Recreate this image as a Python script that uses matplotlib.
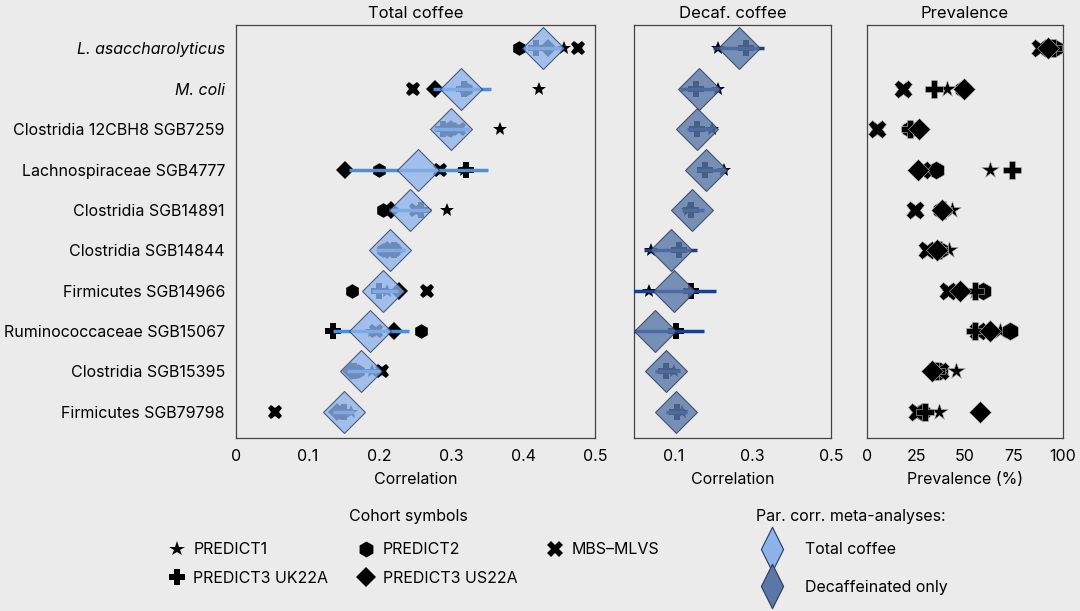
import numpy as np
import matplotlib.pyplot as plt
from matplotlib.lines import Line2D
from matplotlib.path import Path

plt.rcParams['font.family'] = ['Inter', 'DejaVu Sans']
plt.rcParams['font.size'] = 11.5

nan = np.nan

taxa = ['L. asaccharolyticus', 'M. coli', 'Clostridia 12CBH8 SGB7259',
        'Lachnospiraceae SGB4777', 'Clostridia SGB14891', 'Clostridia SGB14844',
        'Firmicutes SGB14966', 'Ruminococcaceae SGB15067', 'Clostridia SGB15395',
        'Firmicutes SGB79798']

# total coffee: meta-analysis + CI, per-cohort correlations
total_meta = [0.427, 0.313, 0.299, 0.253, 0.243, 0.214, 0.205, 0.186, 0.174, 0.150]
total_lo = [0.404, 0.274, 0.274, 0.157, 0.213, 0.195, 0.190, 0.135, 0.155, 0.135]
total_hi = [0.452, 0.355, 0.325, 0.351, 0.272, 0.235, 0.225, 0.241, 0.200, 0.165]
total_p1 = [0.457, 0.422, 0.368, 0.318, 0.294, 0.220, 0.210, 0.190, 0.190, 0.160]
total_p2 = [0.394, 0.320, 0.295, 0.199, 0.205, 0.205, 0.162, 0.257, 0.170, 0.145]
total_uk = [0.418, 0.318, 0.288, 0.320, 0.258, 0.220, 0.199, 0.135, 0.165, 0.150]
total_us = [0.434, 0.277, 0.300, 0.152, 0.216, 0.210, 0.227, 0.220, 0.160, 0.140]
total_mbs = [0.476, 0.247, 0.310, 0.284, 0.250, 0.220, 0.266, 0.195, 0.203, 0.054]

# decaf only
decaf_meta = [0.267, 0.164, 0.161, 0.184, 0.148, 0.093, 0.101, 0.053, 0.080, 0.106]
decaf_lo = [0.200, 0.117, 0.135, 0.161, 0.121, 0.025, -0.02, -0.02, 0.053, 0.081]
decaf_hi = [0.329, 0.218, 0.197, 0.235, 0.177, 0.159, 0.208, 0.178, 0.118, 0.134]
decaf_p1 = [0.213, 0.213, 0.197, 0.228, 0.138, 0.042, 0.039, nan, 0.101, 0.121]
decaf_uk = [0.284, 0.157, 0.159, 0.181, 0.145, 0.114, 0.144, 0.106, 0.081, 0.108]

# prevalence (%)
prev_p1 = [93.5, 41.0, 25.0, 62.8, 43.2, 42.0, 55.0, 67.9, 45.2, 36.7]
prev_p2 = [95.9, 49.0, 21.9, 35.2, 38.0, 37.0, 59.4, 73.0, 37.2, 28.0]
prev_uk = [95.0, 34.2, 21.9, 74.1, 38.9, 36.9, 55.1, 55.1, 35.0, 29.6]
prev_us = [92.4, 49.5, 26.7, 26.2, 38.1, 35.9, 47.4, 62.8, 33.0, 57.7]
prev_mbs = [88.3, 18.2, 4.9, 27.9, 24.5, 30.4, 41.5, 56.8, 37.2, 25.3]

bg = '#ebebeb'
light = '#8db3ea'
dark = '#5a77a8'
edge = '#2b3a5c'

cohorts = [('PREDICT1', '*', 10.5), ('PREDICT2', 'h', 10.5), ('MBS\u2013MLVS', 'X', 10.5),
           ('PREDICT3 UK22A', 'P', 11), ('PREDICT3 US22A', 'D', 9)]

y = np.arange(len(taxa))

fig = plt.figure(figsize=(10.8, 6.11), dpi=100, facecolor=bg)
ax1 = fig.add_axes([236 / 1080, 1 - 438 / 611, 359 / 1080, 413 / 611])
ax2 = fig.add_axes([634 / 1080, 1 - 438 / 611, 197 / 1080, 413 / 611])
ax3 = fig.add_axes([867 / 1080, 1 - 438 / 611, 196 / 1080, 413 / 611])


def cohort_points(ax, vals, marker, ms, mec='black', mew=0):
    ax.plot(vals, y, ls='none', marker=marker, ms=ms, color='black',
            mec=mec, mew=mew, zorder=3)


# Total coffee
for vals, (name, m, ms) in zip([total_p1, total_p2, total_mbs, total_uk, total_us], cohorts):
    cohort_points(ax1, vals, m, ms)
ax1.hlines(y, total_lo, total_hi, color='#4a8fe0', lw=2.5, zorder=4)
ax1.plot(total_meta, y, ls='none', marker='D', ms=21, mfc=light, mec=edge,
         mew=0.8, alpha=0.78, zorder=5)

# Decaf
cohort_points(ax2, decaf_p1, '*', 10.5)
cohort_points(ax2, decaf_uk, 'P', 11)
ax2.hlines(y, decaf_lo, decaf_hi, color='#1d3f8f', lw=2.5, zorder=4)
ax2.plot(decaf_meta, y, ls='none', marker='D', ms=21, mfc=dark, mec=edge,
         mew=0.8, alpha=0.8, zorder=5)

# Prevalence
for vals, (name, m, ms) in zip([prev_p1, prev_p2, prev_mbs, prev_uk, prev_us], cohorts):
    cohort_points(ax3, vals, m, ms + 2.5, mec='#bbbbbb', mew=0.4)

for ax in (ax1, ax2, ax3):
    ax.set_facecolor(bg)
    ax.set_ylim(9.65, -0.58)
    ax.tick_params(length=0, labelsize=11.5, pad=8)
    for s in ax.spines.values():
        s.set_color('#444444')
        s.set_linewidth(0.9)

ax1.set_xlim(0, 0.5)
ax1.set_xticks([0, 0.1, 0.2, 0.3, 0.4, 0.5])
ax1.set_xticklabels(['0', '0.1', '0.2', '0.3', '0.4', '0.5'])
ax1.set_yticks(y)
ax1.set_yticklabels(taxa)
for lab in ax1.get_yticklabels()[:2]:
    lab.set_style('italic')
ax1.set_xlabel('Correlation', labelpad=6)
ax1.set_title('Total coffee', fontsize=12, pad=5)

ax2.set_xlim(0, 0.5)
ax2.set_xticks([0.1, 0.3, 0.5])
ax2.set_xticklabels(['0.1', '0.3', '0.5'])
ax2.set_yticks([])
ax2.set_xlabel('Correlation', labelpad=6)
ax2.set_title('Decaf. coffee', fontsize=12, pad=5)

ax3.set_xlim(0, 100)
ax3.set_xticks([0, 25, 50, 75, 100])
ax3.set_yticks([])
ax3.set_xlabel('Prevalence (%)', labelpad=6)
ax3.set_title('Prevalence', fontsize=12, pad=5)

# Legends
fig.text(408 / 1080, 1 - 516 / 611, 'Cohort symbols', ha='center', va='center',
         fontsize=11.5)
order = [0, 3, 1, 4, 2]
handles = [Line2D([], [], ls='none', marker=cohorts[i][1], ms=cohorts[i][2] + 1,
                  color='black', mew=0) for i in order]
labels = [cohorts[i][0] for i in order]
fig.legend(handles, labels, ncol=3, frameon=False,
           loc='center left', bbox_to_anchor=(167 / 1080, 1 - 564 / 611),
           borderaxespad=0, borderpad=0,
           fontsize=11.5, handletextpad=0.45,
           columnspacing=1.75, labelspacing=0.85, handlelength=1.2)

fig.text(756 / 1080, 1 - 516 / 611, 'Par. corr. meta-analyses:', ha='left',
         va='center', fontsize=11.5)
tall_diamond = Path([(0, 1), (0.5, 0), (0, -1), (-0.5, 0), (0, 1)],
                    [Path.MOVETO, Path.LINETO, Path.LINETO, Path.LINETO, Path.CLOSEPOLY])
meta_handles = [Line2D([], [], ls='none', marker=tall_diamond, ms=32, mfc=c,
                       mec=edge, mew=0.8) for c in (light, dark)]
fig.legend(meta_handles, ['Total coffee', 'Decaffeinated only'],
           frameon=False, loc='center left',
           bbox_to_anchor=(760 / 1080, 1 - 568.5 / 611),
           borderaxespad=0, borderpad=0,
           fontsize=11.5, handletextpad=1.3,
           labelspacing=1.4, handlelength=1.5)

fig.savefig('out.png', dpi=100, facecolor=bg)
